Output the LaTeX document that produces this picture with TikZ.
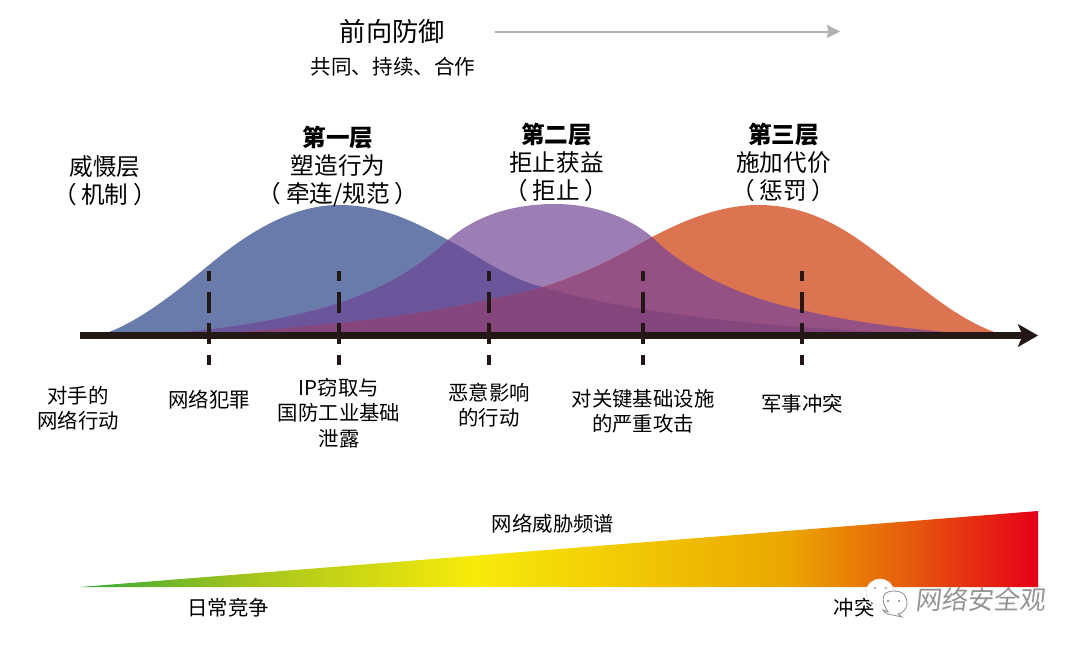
\documentclass[tikz,border=0pt]{standalone}
\usepackage{fontspec}
\setmainfont{Noto Sans CJK SC}
\newfontfamily\wmfont[FakeSlant=0.12]{Noto Sans CJK SC}
\usetikzlibrary{arrows.meta}
\definecolor{axiscol}{RGB}{35,24,21}
\definecolor{cblue}{RGB}{105,123,170}
\definecolor{cpurple}{RGB}{156,126,181}
\definecolor{cred}{RGB}{220,116,82}
\definecolor{cbp}{RGB}{107,85,155}
\definecolor{cpr}{RGB}{149,81,131}
\definecolor{cbpr}{RGB}{132,70,125}
\pgfdeclarehorizontalshading{threat}{100bp}{
 rgb(0bp)=(0.2,0.66,0.22); rgb(25bp)=(0.2,0.66,0.22);
 rgb(33bp)=(0.62,0.76,0.12); rgb(45.5bp)=(0.97,0.92,0.04);
 rgb(62bp)=(0.92,0.65,0); rgb(68bp)=(0.90,0.37,0.05); rgb(75bp)=(0.90,0,0.09); rgb(100bp)=(0.90,0,0.09)}
\newcommand{\bluepath}{(100,335) .. controls (135,325) and (175,293) .. (209,265) .. controls (245,235) and (290,205) .. (339,205) .. controls (385,205) and (420,225) .. (448,240) .. controls (475,254) and (510,280) .. (543,287) .. controls (600,305) and (700,320) .. (802,327) .. controls (850,331) and (900,333) .. (945,335) -- cycle}
\newcommand{\purplepath}{(145,335) .. controls (200,332) and (280,322) .. (339,303) .. controls (385,287) and (415,270) .. (448,240) .. controls (480,212) and (520,204) .. (555,204) .. controls (595,204) and (630,218) .. (652,237) .. controls (680,265) and (730,295) .. (802,310) .. controls (850,322) and (920,331) .. (985,335) -- cycle}
\newcommand{\redpath}{(190,335) .. controls (250,332) and (300,327) .. (339,323) .. controls (400,317) and (470,306) .. (543,287) .. controls (590,272) and (620,255) .. (652,237) .. controls (690,217) and (725,205) .. (758,205) .. controls (805,205) and (840,225) .. (873,250) .. controls (920,285) and (955,320) .. (1003,335) -- cycle}
\newcommand{\pa}{\hspace{3.5pt}}
\tikzset{
 x=0.75pt,y=-0.75pt,
 lab/.style={align=center,inner sep=0pt,text=black,font=\fontsize{15.3}{19}\selectfont},
 head/.style={align=center,inner sep=0pt,text=black,font=\fontsize{17.7}{21.3}\selectfont},
 tickline/.style={draw=axiscol,line width=2.5pt,dash pattern=on 15.75pt off 7.9pt,dash phase=8.25pt},
}
\begin{document}
\begin{tikzpicture}
\useasboundingbox (0,0) rectangle (1080,646);
% curves
\fill[cblue] \bluepath;
\fill[cpurple] \purplepath;
\fill[cred] \redpath;
\begin{scope}
 \clip \bluepath;
 \fill[cbp] \purplepath;
\end{scope}
\begin{scope}
 \clip \purplepath;
 \fill[cpr] \redpath;
\end{scope}
\begin{scope}
 \clip \bluepath;
 \clip \purplepath;
 \fill[cbpr] \redpath;
\end{scope}
% axis
\coordinate (axs) at (80,335.5);
\coordinate (axe) at (1038,335.5);
\draw[axiscol,line width=4.7pt,-{Stealth[length=15pt,width=17pt,inset=3.5pt]}] (axs) -- (axe);
% ticks
\foreach \n/\x in {a/209,b/339,c/489,d/643,e/802}{
 \coordinate (\n1) at (\x,271);
 \coordinate (\n2) at (\x,365);
 \draw[tickline] (\n1) -- (\n2);
}
% top
\node[inner sep=0pt,text=black,font=\fontsize{19.7}{24}\selectfont] (fd) at (392.5,31) {前向防御};
\node[inner sep=0pt,text=black,font=\fontsize{15.4}{20}\selectfont] (gc) at (393,67) {共同、持续、合作};
\coordinate (ts) at (495,31.5);
\coordinate (te) at (840,31.5);
\draw[draw=black!30,line width=1.5pt,-{Stealth[length=10pt,width=10pt,inset=1.5pt]}] (ts) -- (te);
% headers
\node[head] (h0) at (105,181) {威慑层\\（\pa 机制\pa ）};
\node[head,anchor=north] (h1) at (338,125.5) {\textbf{第一层}\\塑造行为\\（\pa 牵连/规范\pa ）};
\node[head,anchor=north] (h2) at (556.5,122.5) {\textbf{第二层}\\拒止获益\\（\pa 拒止\pa ）};
\node[head,anchor=north] (h3) at (783.5,122.5) {\textbf{第三层}\\施加代价\\（\pa 惩罚\pa ）};
% bottom labels
\node[lab] (l0) at (78,408) {对手的\\网络行动};
\node[lab] (l1) at (209,400) {网络犯罪};
\node[lab] (l2) at (339,413) {IP窃取与\\国防工业基础\\泄露};
\node[lab] (l3) at (489,405) {恶意影响\\的行动};
\node[lab] (l4) at (643,411) {对关键基础设施\\的严重攻击};
\node[lab] (l5) at (802,404) {军事冲突};
% spectrum
\shade[shading=threat] (80,587) -- (1038,511) -- (1038,587) -- cycle;
\node[lab] (sp) at (553,524) {网络威胁频谱};
\node[lab] (d1) at (228,608) {日常竞争};
\node[lab] (d2) at (854,608) {冲突};
% watermark
\fill[white,draw=black!12,line width=.4pt] (880,592) ellipse (14 and 13);
\fill[black!30] (875,588) circle (1.3) (886,588) circle (1.3);
\fill[white,draw=black!45,line width=.6pt] (883,610) -- (888,612) .. controls (878,596) and (885,591) .. (894,591) .. controls (904,591) and (907,597) .. (907,603) .. controls (907,611) and (900,614) .. (898,614) -- (902,617) -- (893,615) .. controls (890,615) and (885,614) .. (883,610) -- cycle;
\fill[black!50] (888,601) circle (1.2) (899,601) circle (1.2);
\node[inner sep=0pt,text=black!42,font=\wmfont\fontsize{19.5}{24}\selectfont] (wm) at (980,599) {网络安全观};
\end{tikzpicture}
\end{document}
